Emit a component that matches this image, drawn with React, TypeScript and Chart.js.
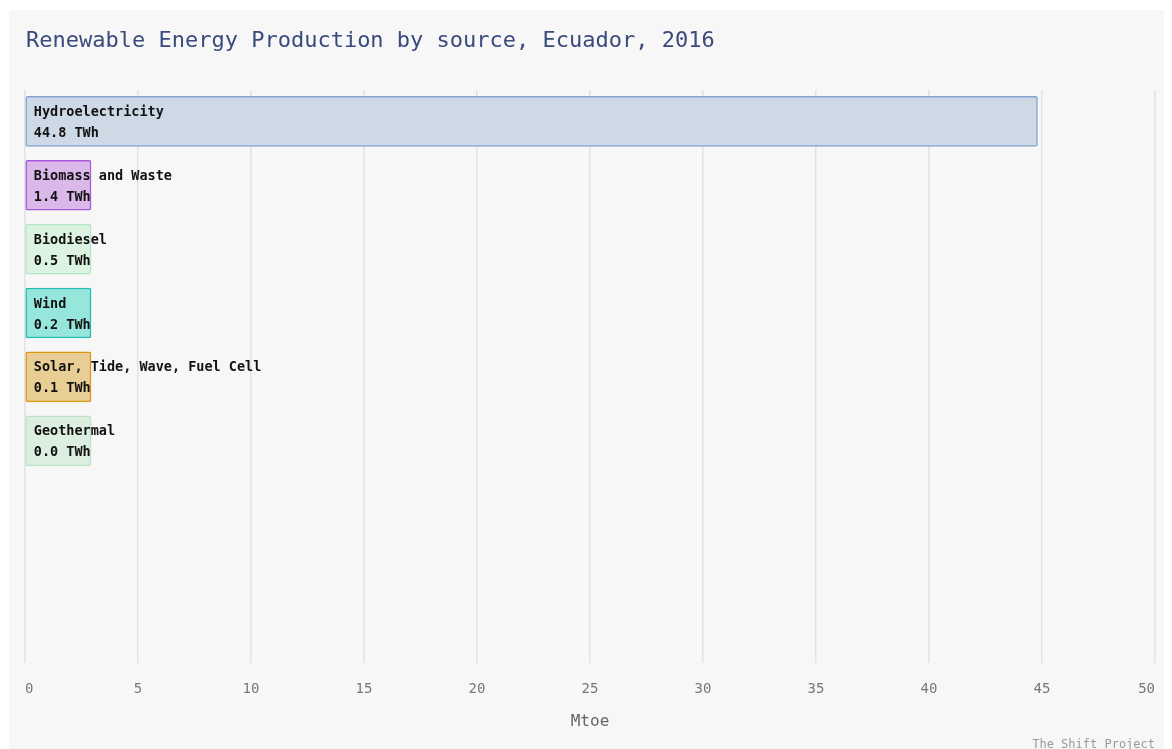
import React, { useEffect, useRef } from "react";
import { Chart, registerables } from "chart.js";

Chart.register(...registerables);

const categories = [
  "Hydroelectricity",
  "Biomass and Waste",
  "Biodiesel",
  "Wind",
  "Solar, Tide, Wave, Fuel Cell",
  "Geothermal",
];
const values = [44.8, 1.4, 0.5, 0.2, 0.1, 0.0];
const unit = "TWh";
const fillColors = ["#cdd9e5", "#dbb8ea", "#dcf3e1", "#97e6dc", "#e8cd95", "#dceee0"];
const borderColors = ["#84a4d2", "#a656d8", "#b2e6c0", "#1dbfb1", "#d9990f", "#bfe1c6"];
const titleText = "Renewable Energy Production by source, Ecuador, 2016";
const xAxisTitle = "Mtoe";
const creditText = "The Shift Project";
const xMin = 0;
const xMax = 50;
const xStep = 5;

const MONO = "'DejaVu Sans Mono', monospace";

const barLabels = {
  id: "barLabels",
  afterDatasetsDraw(chart: any) {
    const ctx = chart.ctx;
    const meta = chart.getDatasetMeta(0);
    ctx.save();
    ctx.font = `bold 13.5px ${MONO}`;
    ctx.fillStyle = "#111111";
    ctx.textAlign = "left";
    ctx.textBaseline = "middle";
    meta.data.forEach((el: any, i: number) => {
      const p = el.getProps(["x", "y", "base", "height"], true);
      const left = Math.min(p.base, p.x);
      ctx.fillText(categories[i], left + 8, p.y - 9);
      ctx.fillText(`${values[i].toFixed(1)} ${unit}`, left + 8, p.y + 12);
    });
    ctx.restore();
  },
};

const texts = {
  id: "texts",
  afterDraw(chart: any) {
    const ctx = chart.ctx;
    const a = chart.chartArea;
    ctx.save();
    ctx.textBaseline = "middle";
    ctx.textAlign = "left";
    ctx.font = `22px ${MONO}`;
    ctx.fillStyle = "#3b4a7c";
    ctx.fillText(titleText, a.left + 1, a.top - 49);
    ctx.textAlign = "center";
    ctx.font = `16px ${MONO}`;
    ctx.fillStyle = "#666666";
    ctx.fillText(xAxisTitle, (a.left + a.right) / 2, a.bottom + 59);
    ctx.textAlign = "right";
    ctx.font = `12px ${MONO}`;
    ctx.fillStyle = "#9a9a9a";
    ctx.fillText(creditText, a.right, a.bottom + 82);
    ctx.restore();
  },
};

export default function App() {
  const ref = useRef<HTMLCanvasElement | null>(null);
  useEffect(() => {
    if (!ref.current) return;
    const chart = new Chart(ref.current, {
      type: "bar",
      data: {
        datasets: [
          {
            data: values.map((v, i) => ({ x: v, y: i })),
            backgroundColor: fillColors,
            borderColor: borderColors,
            borderWidth: 1.5,
            borderRadius: 2,
            borderSkipped: false,
            barThickness: 50,
            minBarLength: 66,
          },
        ],
      },
      plugins: [barLabels, texts],
      options: {
        animation: false,
        responsive: false,
        indexAxis: "y",
        layout: { padding: { left: 16, right: 17, top: 80, bottom: 56 } },
        plugins: {
          legend: { display: false },
          tooltip: { enabled: false },
          title: { display: false },
        },
        scales: {
          y: {
            type: "linear",
            display: false,
            reverse: true,
            offset: false,
            grace: 0,
            min: -0.49,
            max: 8.48,
          },
          x: {
            type: "linear",
            min: xMin,
            max: xMax,
            border: { display: false },
            grid: {
              color: "#e2e2e2",
              lineWidth: 1.5,
              drawTicks: true,
              tickLength: 18,
              tickColor: "rgba(0,0,0,0)",
            },
            ticks: {
              stepSize: xStep,
              color: "#777777",
              padding: 0,
              align: "inner",
              font: { family: MONO, size: 14 },
            },
            title: { display: false },
          },
        },
      },
    } as any);
    return () => chart.destroy();
  }, []);

  return (
    <div
      style={{
        position: "relative",
        left: 1,
        top: 2,
        width: 1163,
        height: 760,
        background: "#f7f7f7",
      }}
    >
      <canvas ref={ref} width={1163} height={744} style={{ display: "block", width: 1163, height: 744 }} />
    </div>
  );
}
